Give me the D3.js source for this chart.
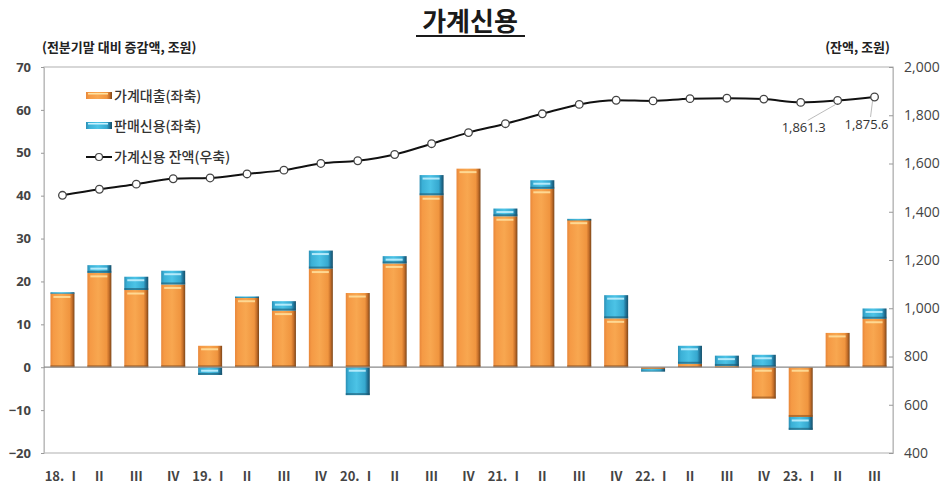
<!DOCTYPE html>
<html><head><meta charset="utf-8">
<script src="https://cdn.jsdelivr.net/npm/d3@7"></script>
<style>
html,body{margin:0;padding:0;background:#fff;}
svg{display:block;font-family:"Noto Sans CJK KR","Noto Sans",sans-serif;}
</style></head>
<body><svg id="c" width="945" height="490"></svg>
<script>
const categories = ["18. Ⅰ","Ⅱ","Ⅲ","Ⅳ","19. Ⅰ","Ⅱ","Ⅲ","Ⅳ","20. Ⅰ","Ⅱ","Ⅲ","Ⅳ","21. Ⅰ","Ⅱ","Ⅲ","Ⅳ","22. Ⅰ","Ⅱ","Ⅲ","Ⅳ","23. Ⅰ","Ⅱ","Ⅲ"];
const loans = [17.2,22.0,18.0,19.3,5.0,16.2,13.2,23.0,17.3,24.2,40.1,46.3,35.2,41.6,34.4,11.4,-0.4,0.8,0.3,-7.3,-11.6,8.0,11.3];
const sales = [0.3,1.8,3.1,3.2,-1.8,0.3,2.2,4.2,-6.5,1.7,4.7,0.0,1.8,2.0,0.2,5.4,-0.6,4.2,2.4,2.9,-3.0,0.0,2.4];
const balance = [1468.2,1493.2,1514.4,1536.7,1540.0,1556.7,1572.5,1600.1,1611.4,1637.3,1682.1,1728.1,1765.0,1806.0,1844.9,1862.1,1859.4,1868.9,1870.6,1867.0,1853.3,1861.3,1875.6];
const leftTicks = [-20,-10,0,10,20,30,40,50,60,70];
const rightTicks = [400,600,800,1000,1200,1400,1600,1800,2000];
const legendLabels = ["가계대출(좌축)","판매신용(좌축)","가계신용 잔액(우축)"];
const labeled = [{i:21,text:"1,861.3"},{i:22,text:"1,875.6"}];

const svg = d3.select("#c");
const L=44, R=893, T=67, B=453;
const x = d3.scaleBand().domain(d3.range(categories.length)).range([L,R]).paddingInner(0.35).paddingOuter(0.175);
const y = d3.scaleLinear().domain([-20,70]).range([B,T]);
const y2 = d3.scaleLinear().domain([400,2000]).range([B,T]);

const defs = svg.append("defs");
function grad(id, stops){
  const g = defs.append("linearGradient").attr("id",id).attr("x1","0").attr("x2","1").attr("y1","0").attr("y2","0");
  stops.forEach(s=>g.append("stop").attr("offset",s[0]).attr("stop-color",s[1]));
}
grad("gO",[[0,"#e8873a"],[0.12,"#f59a45"],[0.45,"#f8a750"],[0.8,"#f0953f"],[0.9,"#c7702a"],[1,"#7c4619"]]);
grad("gB",[[0,"#2b8fb5"],[0.12,"#3bb0d6"],[0.45,"#4cc3e6"],[0.8,"#36a8cf"],[0.9,"#21759a"],[1,"#164f69"]]);

// plot frame
svg.append("rect").attr("x",L).attr("y",T).attr("width",R-L).attr("height",B-T)
  .attr("fill","none").attr("stroke","#bdbdbd").attr("stroke-width",1.2);

// title
svg.append("text").attr("x",470).attr("y",31).attr("text-anchor","middle")
  .attr("font-size",26).attr("font-weight",700).attr("fill","#1a1a1a").text("가계신용");
svg.append("line").attr("x1",416).attr("x2",525).attr("y1",36).attr("y2",36).attr("stroke","#1a1a1a").attr("stroke-width",2);
svg.append("text").attr("x",42).attr("y",52).attr("font-size",13).attr("font-weight",700).attr("fill","#222").text("(전분기말 대비 증감액, 조원)");
svg.append("text").attr("x",890).attr("y",52).attr("text-anchor","end").attr("font-size",13).attr("font-weight",700).attr("fill","#222").text("(잔액, 조원)");

// axes
const ax = svg.append("g").attr("transform",`translate(${L},0)`)
  .call(d3.axisLeft(y).tickValues(leftTicks).tickSize(3).tickPadding(10));
ax.select(".domain").attr("stroke","#bdbdbd");
ax.selectAll(".tick line").attr("stroke","#999");
ax.selectAll("text").attr("font-size",13).attr("font-weight",700).attr("fill","#444").attr("font-family","Open Sans, sans-serif");

const ax2 = svg.append("g").attr("transform",`translate(${R},0)`)
  .call(d3.axisRight(y2).tickValues(rightTicks).tickSize(-4).tickPadding(11).tickFormat(d3.format(",")));
ax2.select(".domain").attr("stroke","#bdbdbd");
ax2.selectAll(".tick line").attr("stroke","#999");
ax2.selectAll("text").attr("font-size",14).attr("fill","#444").attr("font-family","Open Sans, sans-serif");

const axb = svg.append("g").attr("transform",`translate(0,${B})`)
  .call(d3.axisBottom(x).tickFormat(i=>categories[i]).tickSize(0).tickPadding(19));
axb.select(".domain").remove();
axb.selectAll("text").attr("font-size",13).attr("font-weight",700).attr("fill","#444").attr("font-family","Noto Sans CJK KR, sans-serif");

// stacked segments
const segs = [];
categories.forEach((c,i)=>{
  let pos=0, neg=0;
  [[loans[i],"O"],[sales[i],"B"]].forEach(([v,k])=>{
    if(v===0) return;
    let y0,y1;
    if(v>0){ y0=pos; y1=pos+v; pos=y1; } else { y0=neg; y1=neg+v; neg=y1; }
    segs.push({i,k,y0,y1});
  });
});
const bw = x.bandwidth();
const g = svg.append("g");
segs.forEach(s=>{
  const top = y(Math.max(s.y0,s.y1)), bot = y(Math.min(s.y0,s.y1));
  const h = Math.max(bot-top,1.5);
  const x0 = x(s.i);
  g.append("rect").attr("x",x0).attr("y",top).attr("width",bw).attr("height",h)
    .attr("fill",`url(#g${s.k})`);
  g.append("rect").attr("x",x0).attr("y",top+h-Math.min(2,h/3)).attr("width",bw).attr("height",Math.min(2,h/3))
    .attr("fill",s.k==="O"?"#8a4f1e":"#1a5670").attr("opacity",0.6);
  if(h>5){
    g.append("rect").attr("x",x0+3).attr("y",top+2.5).attr("width",bw-7).attr("height",2)
      .attr("fill",s.k==="O"?"#ffe2a0":"#c8f2ff").attr("opacity",0.85);
  }
});

// zero line
svg.append("line").attr("x1",L).attr("x2",R).attr("y1",y(0)).attr("y2",y(0)).attr("stroke","#8a8a8a").attr("stroke-width",1.2);

// balance line
const cx = i=>x(i)+bw/2;
svg.append("path").datum(balance)
  .attr("d",d3.line().x((d,i)=>cx(i)).y(d=>y2(d)).curve(d3.curveMonotoneX))
  .attr("fill","none").attr("stroke","#111").attr("stroke-width",2);
svg.selectAll("circle.pt").data(balance).enter().append("circle").attr("class","pt")
  .attr("cx",(d,i)=>cx(i)).attr("cy",d=>y2(d)).attr("r",3.8)
  .attr("fill","#fff").attr("stroke","#444").attr("stroke-width",1.3);

// annotations
const ann = [{dx:-34,dy:32},{dx:-8,dy:32}];
labeled.forEach((a,k)=>{
  const px=cx(a.i), py=y2(balance[a.i]);
  const tx=px+ann[k].dx, ty=py+ann[k].dy;
  svg.append("line").attr("x1",tx+4).attr("y1",ty-12).attr("x2",px-2).attr("y2",py+4).attr("stroke","#aaa").attr("stroke-width",0.8);
  svg.append("text").attr("x",tx).attr("y",ty).attr("text-anchor","middle").attr("font-size",13).attr("fill","#333")
    .attr("font-family","Open Sans, sans-serif").text(a.text);
});

// legend
const lg = svg.append("g");
const ly = [96,126,157];
["O","B"].forEach((k,j)=>{
  lg.append("rect").attr("x",86).attr("y",ly[j]-4).attr("width",26).attr("height",7).attr("fill",`url(#g${k})`);
  lg.append("rect").attr("x",88).attr("y",ly[j]-3).attr("width",20).attr("height",1.5).attr("fill",k==="O"?"#ffe2a0":"#c8f2ff");
});
lg.append("line").attr("x1",86).attr("x2",112).attr("y1",ly[2]).attr("y2",ly[2]).attr("stroke","#111").attr("stroke-width",2);
lg.append("circle").attr("cx",99).attr("cy",ly[2]).attr("r",3.5).attr("fill","#fff").attr("stroke","#444").attr("stroke-width",1.2);
legendLabels.forEach((t,j)=>{
  lg.append("text").attr("x",114).attr("y",ly[j]+5).attr("font-size",14).attr("font-weight",500).attr("fill","#333").text(t);
});
</script></body></html>
